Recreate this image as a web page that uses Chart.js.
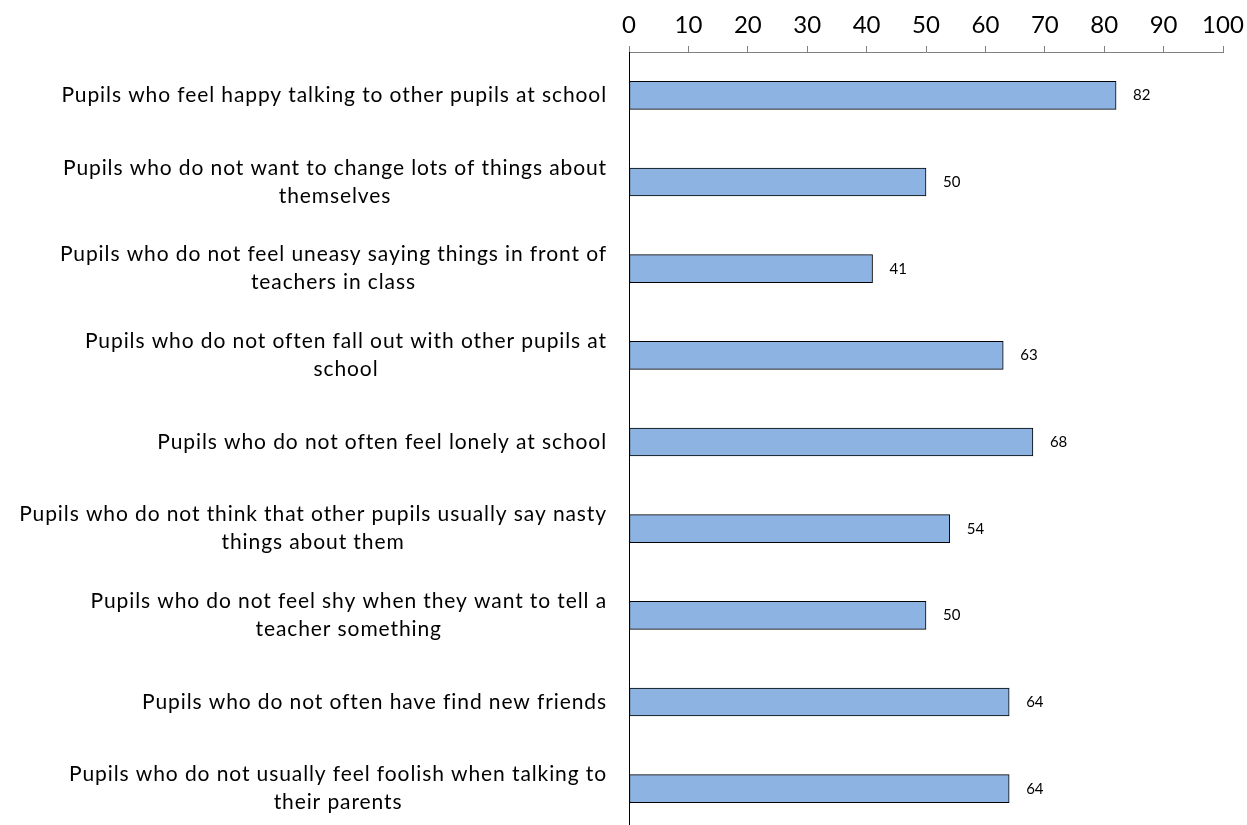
<!DOCTYPE html>
<html>
<head>
<meta charset="utf-8">
<script src="https://cdn.jsdelivr.net/npm/chart.js@4/dist/chart.umd.min.js"></script>
<style>
  html, body { margin: 0; padding: 0; background: #fff; overflow: hidden; }
  #wrap { width: 1247px; height: 832px; }
</style>
</head>
<body>
<div id="wrap"><canvas id="pupilChart" width="1247" height="832"></canvas></div>
<script>
// Survey items (each entry is the wrapped lines of one label)
const categories = [
    ['Pupils who feel happy talking to other pupils at school'],
    ['Pupils who do not want to change lots of things about', 'themselves'],
    ['Pupils who do not feel uneasy saying things in front of', 'teachers in class'],
    ['Pupils who do not often fall out with other pupils at', 'school'],
    ['Pupils who do not often feel lonely at school'],
    ['Pupils who do not think that other pupils usually say nasty', 'things about them'],
    ['Pupils who do not feel shy when they want to tell a', 'teacher something'],
    ['Pupils who do not often have find new friends'],
    ['Pupils who do not usually feel foolish when talking to', 'their parents']
];
const percentages = [82, 50, 41, 63, 68, 54, 50, 64, 64];
const xTicks = [0, 10, 20, 30, 40, 50, 60, 70, 80, 90, 100];

const labelFont = '21px Lato';
const lineGap = 28;

// draws the category labels: block right-aligned, lines centred inside it
const categoryLabels = {
    id: 'categoryLabels',
    afterDraw(chart) {
        const ctx = chart.ctx;
        const yScale = chart.scales.y;
        const rightEdge = yScale.right - 22;
        ctx.save();
        ctx.font = labelFont;
        ctx.letterSpacing = '0.9px';
        ctx.fillStyle = '#000';
        ctx.textAlign = 'center';
        ctx.textBaseline = 'middle';
        categories.forEach((lines, i) => {
            const y = yScale.getPixelForValue(i);
            const w = Math.max(...lines.map(l => ctx.measureText(l).width));
            const cx = rightEdge - w / 2;
            const top = y - (lines.length - 1) * lineGap / 2;
            lines.forEach((line, j) => ctx.fillText(line, cx, top + j * lineGap));
        });
        ctx.restore();
    }
};

// value next to each bar
const valueLabels = {
    id: 'valueLabels',
    afterDatasetsDraw(chart) {
        const ctx = chart.ctx;
        const meta = chart.getDatasetMeta(0);
        ctx.save();
        ctx.font = '15px Lato';
        ctx.fillStyle = '#000';
        ctx.textAlign = 'left';
        ctx.textBaseline = 'middle';
        meta.data.forEach((bar, i) => {
            ctx.fillText(percentages[i], bar.x + 17, bar.y);
        });
        ctx.restore();
    }
};

const ctx = document.getElementById('pupilChart').getContext('2d');
new Chart(ctx, {
    type: 'bar',
    data: {
        labels: categories,
        datasets: [{
            data: percentages,
            backgroundColor: '#8DB3E2',
            borderColor: '#000',
            borderWidth: 1,
            borderSkipped: false,
            barThickness: 28
        }]
    },
    options: {
        indexAxis: 'y',
        responsive: false,
        animation: false,
        layout: { padding: { right: 24, top: 0, bottom: 0, left: 0 } },
        plugins: {
            legend: { display: false },
            tooltip: { enabled: false }
        },
        scales: {
            x: {
                position: 'top',
                min: 0,
                max: 100,
                afterBuildTicks: axis => { axis.ticks = xTicks.map(v => ({ value: v })); },
                afterFit: axis => {
                    axis.height = 52;
                    axis.paddingLeft = 0;
                    axis.paddingRight = 0;
                },
                ticks: {
                    color: '#000',
                    font: { family: 'Lato', size: 24 },
                    padding: 6,
                    maxRotation: 0
                },
                grid: {
                    drawOnChartArea: false,
                    drawTicks: true,
                    tickLength: 6,
                    color: '#808080'
                },
                border: { color: '#808080', width: 1 }
            },
            y: {
                afterFit: axis => { axis.width = 629; },
                ticks: { display: false },
                grid: { display: false },
                border: { color: '#000', width: 1 }
            }
        }
    },
    plugins: [categoryLabels, valueLabels]
});
</script>
</body>
</html>
